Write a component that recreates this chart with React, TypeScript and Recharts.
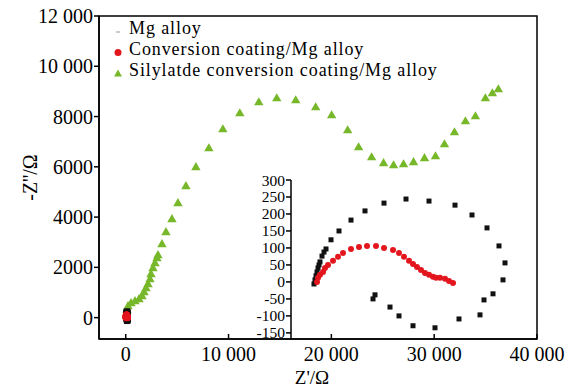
import { ScatterChart, Scatter, XAxis, YAxis, ReferenceArea } from 'recharts';

const FONT = 'Liberation Serif, DejaVu Serif, serif';

const SERIES = ['Mg alloy', 'Conversion coating/Mg alloy', 'Silylatde conversion coating/Mg alloy'];

// Mg alloy (Ω)
const MG_RE = [23, 24, 25, 26, 27, 28, 29, 31, 33, 35, 40, 48, 60, 74, 93, 115, 138, 164, 181, 196, 208, 214, 212, 202, 193, 189, 168, 144, 122, 108, 99, 84, 82];
const MG_IM = [-6, 6, 18, 29, 41, 50, 59, 76, 88, 97, 124, 150, 182, 209, 232, 244, 238, 226, 197, 159, 106, 56, 6, -35, -53, -97, -109, -135, -129, -100, -74, -38, -50];

// conversion coating / Mg alloy
const CC_RE = [26, 27, 29, 32, 34, 37, 42, 47, 52, 60, 68, 76, 85, 93, 102, 108, 113, 118, 122, 126, 130, 134, 138, 142, 145, 149, 154, 158, 162];
const CC_IM = [0, 12, 21, 29, 41, 50, 62, 74, 85, 97, 103, 106, 106, 100, 94, 85, 74, 62, 53, 44, 35, 26, 21, 15, 12, 12, 9, 3, -3];

// silylated conversion coating / Mg alloy
const SI_RE = [126, 223, 515, 903, 1291, 1583, 1777, 1971, 2165, 2359, 2456, 2650, 2845, 3039, 3136, 3524, 3913, 4495, 5078, 5854, 6825, 8087, 9447, 11097, 12942, 14689, 16534, 18476, 20029, 21583, 22650, 23913, 25078, 26049, 27019, 27990, 29058, 30126, 31000, 31971, 33039, 34010, 34981, 35660, 36243];
const SI_IM = [318, 477, 596, 676, 755, 875, 1034, 1193, 1352, 1551, 1749, 1988, 2187, 2385, 2505, 2942, 3419, 3936, 4572, 5248, 6004, 6759, 7515, 8151, 8588, 8747, 8668, 8389, 8071, 7475, 6799, 6401, 6163, 6083, 6123, 6203, 6362, 6441, 6918, 7395, 7833, 8032, 8747, 8946, 9105];

const X_TICKS = [0, 10000, 20000, 30000, 40000];
const Y_TICKS = [0, 2000, 4000, 6000, 8000, 10000, 12000];
const INSET_TICKS = [-150, -100, -50, 0, 50, 100, 150, 200, 250, 300];

const pts = (re: number[], im: number[]) => re.map((x, i) => ({ x, y: im[i] }));
const mg = pts(MG_RE, MG_IM);
const cc = pts(CC_RE, CC_IM);
const si = pts(SI_RE, SI_IM);

const fmt = (v: number) => (v >= 10000 ? String(v).replace(/(\d{3})$/, ' $1') : String(v));

const BLACK = '#111';
const RED = '#e3161d';
const GREEN = '#77b82b';

const square = (s: number) => (p: any) => <rect x={p.cx - s / 2} y={p.cy - s / 2} width={s} height={s} fill={BLACK} />;
const dot = (r: number) => (p: any) => <circle cx={p.cx} cy={p.cy} r={r} fill={RED} />;
const Tri = (p: any) => (
  <polygon points={`${p.cx},${p.cy - 4.6} ${p.cx + 4.7},${p.cy + 3.6} ${p.cx - 4.7},${p.cy + 3.6}`} fill={GREEN} />
);

const axisStyle = { stroke: '#000', strokeWidth: 1.5 };

function LegendBox() {
  const icons = [
    <line x1={6} x2={10} y1={14} y2={14} stroke="#999" strokeWidth={1} />,
    <circle cx={8} cy={13.5} r={3.5} fill={RED} />,
    <polygon points="8,9.5 12,16.5 4,16.5" fill={GREEN} />,
  ];
  return (
    <div style={{ position: 'absolute', left: 110, top: 18, fontFamily: FONT, fontSize: 18, lineHeight: '21px', letterSpacing: 0.9, color: '#000' }}>
      {SERIES.map((name, i) => (
        <div key={name} style={{ display: 'flex', height: 21, whiteSpace: 'nowrap' }}>
          <svg width={16} height={21} style={{ marginRight: 3 }}>{icons[i]}</svg>
          <span>{name}</span>
        </div>
      ))}
    </div>
  );
}

export default function App() {
  return (
    <div style={{ position: 'absolute', left: 0, top: 0, width: 577, height: 391, background: '#fff', fontFamily: FONT }}>
      <ScatterChart width={577} height={391} margin={{ top: 16, right: 40, bottom: 0, left: 0 }}>
        <XAxis
          type="number"
          dataKey="x"
          domain={[-2600, 40000]}
          allowDataOverflow
          ticks={X_TICKS}
          tickFormatter={fmt}
          interval={0}
          height={52}
          tickSize={-5}
          tickMargin={13}
          axisLine={axisStyle}
          tickLine={axisStyle}
          tick={{ fill: '#000', fontSize: 20, fontFamily: FONT }}
          label={{ value: "Z'/Ω", position: 'insideBottom', offset: 7, dx: -6, fill: '#000', fontSize: 19, fontFamily: FONT }}
        />
        <YAxis
          type="number"
          dataKey="y"
          domain={[-850, 12000]}
          allowDataOverflow
          ticks={Y_TICKS}
          tickFormatter={fmt}
          interval={0}
          width={99}
          tickSize={5}
          tickMargin={1}
          axisLine={axisStyle}
          tickLine={axisStyle}
          tick={{ fill: '#000', fontSize: 20, fontFamily: FONT }}
          label={{ value: "-Z''/Ω", angle: -90, position: 'insideLeft', offset: 30, fill: '#000', fontSize: 20, fontFamily: FONT, style: { textAnchor: 'middle' } }}
        />
        <ReferenceArea x1={-2600} x2={40000} y1={-850} y2={12000} fill="none" stroke="#000" strokeWidth={1.5} ifOverflow="visible" />
        <Scatter name={SERIES[2]} data={si} shape={Tri} isAnimationActive={false} />
        <Scatter name={SERIES[0]} data={mg} shape={square(6)} isAnimationActive={false} />
        <Scatter name={SERIES[1]} data={cc} shape={dot(3.5)} isAnimationActive={false} />
      </ScatterChart>

      <div style={{ position: 'absolute', left: 245, top: 172 }}>
        <ScatterChart width={286} height={175} margin={{ top: 8, right: 0, bottom: 8, left: 0 }}>
          <XAxis type="number" dataKey="x" domain={[0, 240]} allowDataOverflow hide />
          <YAxis
            type="number"
            dataKey="y"
            domain={[-168, 300]}
            allowDataOverflow
            ticks={INSET_TICKS}
            interval={0}
            width={46}
            tickSize={5}
            tickMargin={1}
            axisLine={axisStyle}
            tickLine={axisStyle}
            tick={{ fill: '#000', fontSize: 15.5, fontFamily: FONT }}
          />
          <Scatter name={SERIES[0]} data={mg} shape={square(5)} isAnimationActive={false} />
          <Scatter name={SERIES[1]} data={cc} shape={dot(3)} isAnimationActive={false} />
        </ScatterChart>
      </div>

      <LegendBox />
    </div>
  );
}
